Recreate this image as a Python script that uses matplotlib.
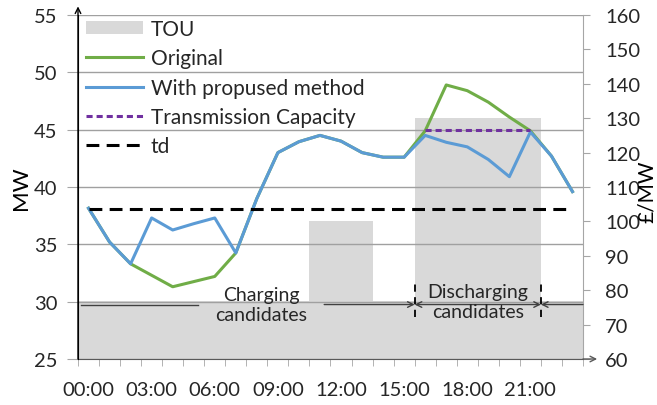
import numpy as np
import matplotlib.pyplot as plt
from matplotlib.patches import Patch
from matplotlib.lines import Line2D

plt.rcParams['font.family'] = ['Lato', 'DejaVu Sans']

# hourly data
hours = ['%02d:00' % h for h in range(24)]
tou = [77, 77, 77, 77, 77, 77, 77, 77, 77, 77, 77, 100, 100, 100, 77, 77,
       130, 130, 130, 130, 130, 130, 77, 77]
original = [38.15, 35.2, 33.3, 32.3, 31.3, 31.75, 32.2, 34.25, 39.0, 43.0, 43.95, 44.5,
            44.0, 43.0, 42.6, 42.6, 44.9, 48.9, 48.4, 47.4, 46.1, 44.9, 42.7, 39.6]
proposed = [38.15, 35.2, 33.3, 37.3, 36.25, 36.8, 37.3, 34.25, 39.0, 43.0, 43.95, 44.5,
            44.0, 43.0, 42.6, 42.6, 44.5, 43.9, 43.5, 42.4, 40.9, 44.8, 42.7, 39.6]
capacity = [np.nan] * 16 + [45] * 6 + [np.nan] * 2
td = [38.1] * 24

x = np.arange(24)

fig = plt.figure(figsize=(6.57, 4.06), dpi=100)
ax = fig.add_axes([78 / 657, 46 / 406, 505 / 657, 344 / 406])
ax2 = ax.twinx()

# TOU bars on the price axis (drawn behind)
ax.bar(x, tou, width=1.0, color='#D9D9D9', zorder=1)
ax.set_ylim(60, 160)
ax.set_yticks(range(60, 161, 10))
ax.yaxis.tick_right()
ax.yaxis.set_label_position('right')
ax.set_ylabel('£/MW', fontsize=15)
ax.yaxis.label.set_va('center')
ax.yaxis.set_label_coords(1.127, 0.49)
ax.tick_params(axis='y', direction='out', length=5, color='#A6A6A6', labelsize=14.5,
               pad=11, labelcolor='#262626')

# MW lines
ax2.plot(x, original, color='#70AD47', lw=2.2, zorder=3)
ax2.plot(x, proposed, color='#5B9BD5', lw=2.2, zorder=4)
ax2.plot(x, capacity, color='#7030A0', lw=2.2, dashes=(2.0, 1.3), zorder=5)
ax2.plot(x, td, color='black', lw=2.2, dashes=(4.2, 2.4), zorder=6)
ax2.set_ylim(25, 55)
ax2.set_yticks(range(25, 56, 5))
ax2.yaxis.tick_left()
ax2.yaxis.set_label_position('left')
ax2.set_ylabel('MW', fontsize=16, labelpad=2)
ax2.tick_params(axis='y', direction='out', length=8, color='#A6A6A6', labelsize=14.5,
                pad=7, labelcolor='#262626')
ax2.grid(axis='y', color='#A0A0A0', lw=1, zorder=2)

ax.set_xlim(-0.5, 23.5)
ax.set_xticks(x[::3])
ax.set_xticklabels(hours[::3])
ax.set_xticks(np.arange(-0.5, 24, 1), minor=True)
ax.tick_params(axis='x', which='major', length=0, labelsize=14.5, pad=16,
               labelcolor='#262626')
ax.tick_params(axis='x', which='minor', length=5, color='#A6A6A6')

for a in (ax, ax2):
    a.spines['top'].set_visible(False)
    a.spines['right'].set_color('#A6A6A6')
    a.spines['left'].set_color('black')
    a.spines['bottom'].set_color('#595959')
ax2.spines['bottom'].set_visible(False)
ax2.spines['right'].set_visible(False)
ax.spines['left'].set_visible(False)

# axis arrows
ax2.annotate('', xy=(0, 1.025), xytext=(0, 0), xycoords='axes fraction',
             arrowprops=dict(arrowstyle='->', color='black', lw=1, shrinkA=0, shrinkB=0))
ax2.annotate('', xy=(1.028, 0), xytext=(1, 0), xycoords='axes fraction',
             arrowprops=dict(arrowstyle='->', color='#595959', lw=1, shrinkA=0, shrinkB=0))

# candidate annotations
yc = 29.75
ax2.plot([-0.37, 5.2], [yc, yc], color='#404040', lw=1, zorder=7)
ax2.annotate('', xy=(15.5, yc), xytext=(11.2, yc),
             arrowprops=dict(arrowstyle='->', color='#404040', lw=1, shrinkA=0, shrinkB=0))
ax2.annotate('', xy=(15.5, yc), xytext=(21.5, yc),
             arrowprops=dict(arrowstyle='<->', color='#404040', lw=1, shrinkA=0, shrinkB=0))
ax2.annotate('', xy=(21.5, yc), xytext=(23.5, yc),
             arrowprops=dict(arrowstyle='->', color='#404040', lw=1, shrinkA=0, shrinkB=0))
for xv in (15.5, 21.5):
    ax2.plot([xv, xv], [28.7, 31.9], color='black', lw=1.3, dashes=(4, 3), zorder=7)
ax2.text(8.2, 29.75, 'Charging\ncandidates', ha='center', va='center',
         fontsize=14, color='#262626', linespacing=1.2, zorder=8)
ax2.text(18.5, 30.0, 'Discharging\ncandidates', ha='center', va='center',
         fontsize=14, color='#262626', linespacing=1.2, zorder=8)

handles = [
    Patch(facecolor='#D9D9D9', edgecolor='none'),
    Line2D([], [], color='#70AD47', lw=2.2),
    Line2D([], [], color='#5B9BD5', lw=2.2),
    Line2D([], [], color='#7030A0', lw=2.2, dashes=(2.0, 1.3)),
    Line2D([], [], color='black', lw=2.2, dashes=(4.2, 2.4)),
]
labels = ['TOU', 'Original', 'With propused method', 'Transmission Capacity', 'td']
leg = ax2.legend(handles, labels, loc='upper left', bbox_to_anchor=(0.012, 0.995),
                 frameon=False, fontsize=15, handlelength=2.75, handleheight=0.6,
                 handletextpad=0.35, labelspacing=0.45, borderaxespad=0, borderpad=0.1,
                 labelcolor='#262626')
leg.set_zorder(10)

fig.savefig('out.png', dpi=100)
